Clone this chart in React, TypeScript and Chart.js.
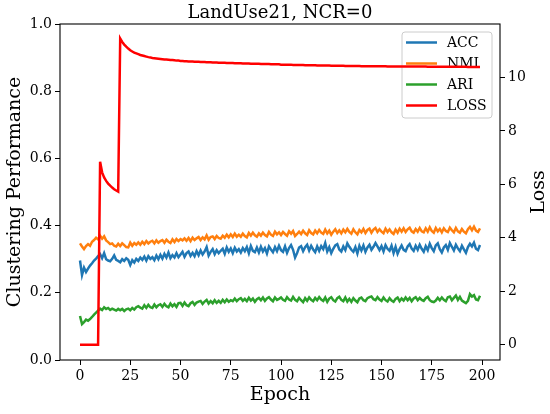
import React, { useEffect, useRef } from "react";
import { Chart, registerables } from "chart.js";

Chart.register(...registerables);

const TITLE = "LandUse21, NCR=0";
const X_LABEL = "Epoch";
const Y_LABEL = "Clustering Performance";
const Y2_LABEL = "Loss";

const EPOCHS: number[] = Array.from({ length: 200 }, (_, i) => i);
const X_TICKS = [0, 25, 50, 75, 100, 125, 150, 175, 200];
const Y_TICKS = [0, 0.2, 0.4, 0.6, 0.8, 1.0];
const Y2_TICKS = [0, 2, 4, 6, 8, 10];

const ACC = [
  0.296, 0.253, 0.275, 0.262, 0.272, 0.281, 0.288, 0.296, 0.302, 0.309,
  0.315, 0.303, 0.318, 0.300, 0.296, 0.294, 0.301, 0.311, 0.298, 0.295,
  0.291, 0.300, 0.295, 0.303, 0.298, 0.283, 0.297, 0.290, 0.301, 0.295,
  0.305, 0.298, 0.308, 0.296, 0.309, 0.301, 0.306, 0.297, 0.311, 0.300,
  0.313, 0.302, 0.316, 0.305, 0.320, 0.303, 0.312, 0.305, 0.318, 0.306,
  0.314, 0.322, 0.307, 0.318, 0.323, 0.310, 0.319, 0.309, 0.324, 0.312,
  0.326, 0.314, 0.323, 0.336, 0.311, 0.322, 0.330, 0.315, 0.327, 0.318,
  0.325, 0.331, 0.316, 0.335, 0.322, 0.332, 0.318, 0.334, 0.323, 0.330,
  0.320, 0.333, 0.324, 0.336, 0.318, 0.339, 0.325, 0.321, 0.335, 0.320,
  0.337, 0.323, 0.333, 0.317, 0.338, 0.329, 0.321, 0.336, 0.324, 0.340,
  0.327, 0.322, 0.338, 0.319, 0.333, 0.342, 0.328, 0.305, 0.318, 0.335,
  0.339, 0.324, 0.336, 0.343, 0.326, 0.340, 0.329, 0.321, 0.338, 0.325,
  0.339, 0.330, 0.348, 0.323, 0.336, 0.318, 0.331, 0.341, 0.345, 0.329,
  0.323, 0.338, 0.327, 0.347, 0.337, 0.328, 0.322, 0.336, 0.317, 0.340,
  0.326, 0.341, 0.322, 0.335, 0.343, 0.328, 0.337, 0.348, 0.338, 0.327,
  0.339, 0.323, 0.342, 0.331, 0.325, 0.340, 0.318, 0.337, 0.316, 0.330,
  0.341, 0.328, 0.324, 0.338, 0.345, 0.332, 0.325, 0.340, 0.328, 0.343,
  0.331, 0.322, 0.339, 0.327, 0.346, 0.333, 0.324, 0.341, 0.347, 0.330,
  0.320, 0.335, 0.342, 0.328, 0.348, 0.337, 0.326, 0.343, 0.332, 0.324,
  0.340, 0.329, 0.319, 0.336, 0.346, 0.338, 0.349, 0.331, 0.327, 0.342,
];

const NMI = [
  0.347, 0.338, 0.330, 0.339, 0.345, 0.340, 0.352, 0.357, 0.364, 0.359,
  0.370, 0.361, 0.368, 0.356, 0.351, 0.345, 0.347, 0.340, 0.338, 0.346,
  0.339, 0.347, 0.342, 0.336, 0.335, 0.349, 0.340, 0.348, 0.343, 0.350,
  0.343, 0.352, 0.345, 0.354, 0.347, 0.352, 0.355, 0.347, 0.356, 0.349,
  0.354, 0.357, 0.349, 0.358, 0.352, 0.348, 0.359, 0.351, 0.360, 0.354,
  0.360, 0.356, 0.362, 0.355, 0.363, 0.354, 0.364, 0.357, 0.362, 0.366,
  0.357, 0.365, 0.359, 0.371, 0.358, 0.366, 0.368, 0.360, 0.369, 0.363,
  0.361, 0.370, 0.364, 0.373, 0.365, 0.374, 0.366, 0.376, 0.367, 0.373,
  0.367, 0.376, 0.369, 0.365, 0.378, 0.370, 0.379, 0.371, 0.367, 0.377,
  0.370, 0.379, 0.372, 0.368, 0.381, 0.373, 0.369, 0.382, 0.374, 0.380,
  0.372, 0.381, 0.375, 0.370, 0.383, 0.376, 0.384, 0.369, 0.375, 0.382,
  0.375, 0.385, 0.377, 0.372, 0.386, 0.378, 0.374, 0.385, 0.377, 0.387,
  0.379, 0.375, 0.388, 0.377, 0.385, 0.373, 0.382, 0.389, 0.378, 0.386,
  0.377, 0.388, 0.380, 0.390, 0.381, 0.376, 0.389, 0.380, 0.374, 0.387,
  0.380, 0.390, 0.378, 0.387, 0.391, 0.379, 0.388, 0.393, 0.381, 0.389,
  0.382, 0.377, 0.391, 0.381, 0.389, 0.380, 0.375, 0.388, 0.379, 0.391,
  0.382, 0.392, 0.381, 0.389, 0.394, 0.383, 0.379, 0.390, 0.382, 0.393,
  0.383, 0.380, 0.392, 0.382, 0.395, 0.384, 0.379, 0.393, 0.383, 0.390,
  0.380, 0.392, 0.384, 0.381, 0.394, 0.386, 0.380, 0.393, 0.383, 0.379,
  0.390, 0.382, 0.377, 0.389, 0.396, 0.386, 0.397, 0.385, 0.381, 0.392,
];

const ARI = [
  0.131, 0.107, 0.113, 0.120, 0.117, 0.122, 0.128, 0.135, 0.141, 0.147,
  0.153, 0.149, 0.157, 0.152, 0.155, 0.149, 0.153, 0.150, 0.147, 0.152,
  0.148, 0.152, 0.146, 0.151, 0.153, 0.148, 0.155, 0.150, 0.157, 0.160,
  0.156, 0.153, 0.163, 0.155, 0.164, 0.157, 0.155, 0.165, 0.157, 0.163,
  0.166, 0.158, 0.167, 0.160, 0.157, 0.168, 0.160, 0.166, 0.158, 0.169,
  0.170, 0.161, 0.171, 0.163, 0.160, 0.169, 0.173, 0.164, 0.171, 0.174,
  0.176, 0.167, 0.174, 0.179, 0.168, 0.175, 0.169, 0.178, 0.170, 0.176,
  0.170, 0.179, 0.172, 0.180, 0.173, 0.178, 0.175, 0.183, 0.175, 0.181,
  0.184, 0.176, 0.182, 0.175, 0.185, 0.177, 0.183, 0.173, 0.181, 0.185,
  0.178, 0.186, 0.176, 0.183, 0.187, 0.180, 0.175, 0.186, 0.179, 0.182,
  0.186, 0.179, 0.176, 0.187, 0.180, 0.177, 0.188, 0.179, 0.175, 0.185,
  0.178, 0.172, 0.184, 0.176, 0.186, 0.179, 0.175, 0.185, 0.178, 0.187,
  0.180, 0.176, 0.186, 0.173, 0.183, 0.187, 0.178, 0.174, 0.184, 0.188,
  0.179, 0.175, 0.186, 0.174, 0.182, 0.173, 0.184, 0.177, 0.172, 0.183,
  0.186, 0.178, 0.175, 0.184, 0.187, 0.189, 0.181, 0.178, 0.187, 0.180,
  0.176, 0.186, 0.178, 0.174, 0.184, 0.177, 0.173, 0.182, 0.186, 0.175,
  0.183, 0.177, 0.186, 0.178, 0.185, 0.175, 0.183, 0.187, 0.178, 0.185,
  0.179, 0.176, 0.184, 0.188, 0.178, 0.174, 0.172, 0.177, 0.185, 0.178,
  0.186, 0.179, 0.175, 0.187, 0.189, 0.178, 0.185, 0.192, 0.179, 0.188,
  0.177, 0.173, 0.169, 0.176, 0.196, 0.189, 0.193, 0.180, 0.178, 0.191,
];

const LOSS = [
  0, 0, 0, 0, 0, 0, 0, 0, 0, 0,
  6.85, 6.45, 6.26, 6.13, 6.03, 5.95, 5.88, 5.82, 5.77, 5.73,
  11.46, 11.33, 11.23, 11.15, 11.08, 11.02, 10.97, 10.93, 10.90, 10.87,
  10.84, 10.82, 10.80, 10.78, 10.76, 10.75, 10.73, 10.72, 10.71, 10.70,
  10.69, 10.68, 10.67, 10.67, 10.66, 10.65, 10.65, 10.64, 10.63, 10.63,
  10.62, 10.62, 10.61, 10.61, 10.60, 10.60, 10.60, 10.59, 10.59, 10.59,
  10.58, 10.58, 10.58, 10.57, 10.57, 10.57, 10.56, 10.56, 10.56, 10.55,
  10.55, 10.55, 10.55, 10.54, 10.54, 10.54, 10.54, 10.53, 10.53, 10.53,
  10.53, 10.52, 10.52, 10.52, 10.52, 10.51, 10.51, 10.51, 10.51, 10.51,
  10.50, 10.50, 10.50, 10.50, 10.50, 10.49, 10.49, 10.49, 10.49, 10.49,
  10.48, 10.48, 10.48, 10.48, 10.48, 10.48, 10.47, 10.47, 10.47, 10.47,
  10.47, 10.47, 10.46, 10.46, 10.46, 10.46, 10.46, 10.46, 10.45, 10.45,
  10.45, 10.45, 10.45, 10.45, 10.45, 10.44, 10.44, 10.44, 10.44, 10.44,
  10.44, 10.44, 10.43, 10.43, 10.43, 10.43, 10.43, 10.43, 10.43, 10.43,
  10.42, 10.42, 10.42, 10.42, 10.42, 10.42, 10.42, 10.42, 10.42, 10.42,
  10.42, 10.42, 10.42, 10.41, 10.41, 10.41, 10.41, 10.41, 10.41, 10.41,
  10.41, 10.41, 10.41, 10.41, 10.41, 10.41, 10.41, 10.41, 10.41, 10.41,
  10.41, 10.41, 10.41, 10.40, 10.40, 10.40, 10.40, 10.40, 10.40, 10.40,
  10.40, 10.40, 10.40, 10.40, 10.40, 10.40, 10.40, 10.40, 10.40, 10.40,
  10.40, 10.40, 10.40, 10.39, 10.39, 10.39, 10.39, 10.39, 10.39, 10.39,
];

const SERIES_NAMES = ["ACC", "NMI", "ARI", "LOSS"];
const SERIES_COLORS = ["#1f77b4", "#ff7f0e", "#2ca02c", "#ff0000"];

const FONT = "'DejaVu Serif', serif";

const pts = (ys: number[]) => EPOCHS.map((x, i) => ({ x, y: ys[i] }));

const legendPlugin = {
  id: "mplLegend",
  beforeDatasetsDraw(chart: any) {
    const ctx = chart.ctx;
    const left = 402, top = 32, w = 90, h = 86, r = 3;
    ctx.save();
    ctx.beginPath();
    ctx.moveTo(left + r, top);
    ctx.lineTo(left + w - r, top);
    ctx.quadraticCurveTo(left + w, top, left + w, top + r);
    ctx.lineTo(left + w, top + h - r);
    ctx.quadraticCurveTo(left + w, top + h, left + w - r, top + h);
    ctx.lineTo(left + r, top + h);
    ctx.quadraticCurveTo(left, top + h, left, top + h - r);
    ctx.lineTo(left, top + r);
    ctx.quadraticCurveTo(left, top, left + r, top);
    ctx.closePath();
    ctx.fillStyle = "rgba(255,255,255,0.8)";
    ctx.fill();
    ctx.strokeStyle = "#cccccc";
    ctx.lineWidth = 1;
    ctx.stroke();
    const rows = [42.5, 63.5, 84.5, 105.5];
    ctx.font = `14px ${FONT}`;
    ctx.textBaseline = "middle";
    ctx.textAlign = "left";
    SERIES_NAMES.forEach((name, i) => {
      ctx.strokeStyle = SERIES_COLORS[i];
      ctx.lineWidth = 2.5;
      ctx.beginPath();
      ctx.moveTo(406, rows[i]);
      ctx.lineTo(437, rows[i]);
      ctx.stroke();
      ctx.fillStyle = "#000";
      ctx.fillText(name, 447, rows[i] + 0.5);
    });
    ctx.restore();
  },
};

const framePlugin = {
  id: "mplFrame",
  afterDraw(chart: any) {
    const ctx = chart.ctx;
    const a = chart.chartArea;
    ctx.save();
    ctx.strokeStyle = "#000";
    ctx.lineWidth = 1.1;
    ctx.strokeRect(a.left, a.top, a.right - a.left, a.bottom - a.top);
    ctx.fillStyle = "#000";
    ctx.textAlign = "center";
    ctx.textBaseline = "alphabetic";
    ctx.font = `18px ${FONT}`;
    ctx.fillText(TITLE, (a.left + a.right) / 2, 17.5);
    ctx.font = `19px ${FONT}`;
    ctx.textBaseline = "middle";
    ctx.fillText(X_LABEL, (a.left + a.right) / 2, 395);
    ctx.save();
    ctx.translate(15, (a.top + a.bottom) / 2);
    ctx.rotate(-Math.PI / 2);
    ctx.fillText(Y_LABEL, 0, 0);
    ctx.restore();
    ctx.save();
    ctx.translate(539, (a.top + a.bottom) / 2);
    ctx.rotate(-Math.PI / 2);
    ctx.fillText(Y2_LABEL, 0, 0);
    ctx.restore();
    ctx.restore();
  },
};

export default function App() {
  const ref = useRef<HTMLCanvasElement | null>(null);
  useEffect(() => {
    if (!ref.current) return;
    const tickFont = { family: FONT, size: 14 };
    const gridCommon = {
      drawOnChartArea: false,
      drawTicks: true,
      tickLength: 5,
      tickColor: "#000",
      tickWidth: 1,
    };
    const chart = new Chart(ref.current, {
      type: "line",
      data: {
        datasets: [
          { label: "ACC", data: pts(ACC), borderColor: SERIES_COLORS[0], yAxisID: "y", order: 1 },
          { label: "NMI", data: pts(NMI), borderColor: SERIES_COLORS[1], yAxisID: "y", order: 2 },
          { label: "ARI", data: pts(ARI), borderColor: SERIES_COLORS[2], yAxisID: "y", order: 3 },
          { label: "LOSS", data: pts(LOSS), borderColor: SERIES_COLORS[3], yAxisID: "y1", order: 0 },
        ].map((d) => ({ ...d, borderWidth: 2.5, pointRadius: 0, tension: 0, fill: false })),
      },
      options: {
        animation: false,
        responsive: false,
        layout: { padding: { top: 24, left: 0, right: 0, bottom: 0 } },
        plugins: { legend: { display: false }, tooltip: { enabled: false }, title: { display: false } },
        scales: {
          x: {
            type: "linear",
            min: -9.95,
            max: 208.95,
            grid: gridCommon,
            border: { display: false },
            afterBuildTicks: (s: any) => { s.ticks = X_TICKS.map((v) => ({ value: v })); },
            afterFit: (s: any) => { s.height = 54; },
            ticks: { font: tickFont, color: "#000", padding: 3, maxRotation: 0, callback: (v: any) => String(v) },
          },
          y: {
            type: "linear",
            position: "left",
            min: 0,
            max: 1,
            grid: gridCommon,
            border: { display: false },
            afterBuildTicks: (s: any) => { s.ticks = Y_TICKS.map((v) => ({ value: v })); },
            afterFit: (s: any) => { s.width = 60; },
            ticks: { font: tickFont, color: "#000", padding: 3, callback: (v: any) => Number(v).toFixed(1) },
          },
          y1: {
            type: "linear",
            position: "right",
            min: -0.57,
            max: 12.0,
            grid: gridCommon,
            border: { display: false },
            afterBuildTicks: (s: any) => { s.ticks = Y2_TICKS.map((v) => ({ value: v })); },
            afterFit: (s: any) => { s.width = 50; },
            ticks: { font: tickFont, color: "#000", padding: 3, callback: (v: any) => String(v) },
          },
        },
      } as any,
      plugins: [legendPlugin, framePlugin],
    });
    return () => chart.destroy();
  }, []);
  return (
    <div style={{ position: "fixed", left: 0, top: 0, width: 550, height: 414, background: "#fff" }}>
      <canvas ref={ref} width={550} height={414} style={{ width: 550, height: 414 }} />
    </div>
  );
}
